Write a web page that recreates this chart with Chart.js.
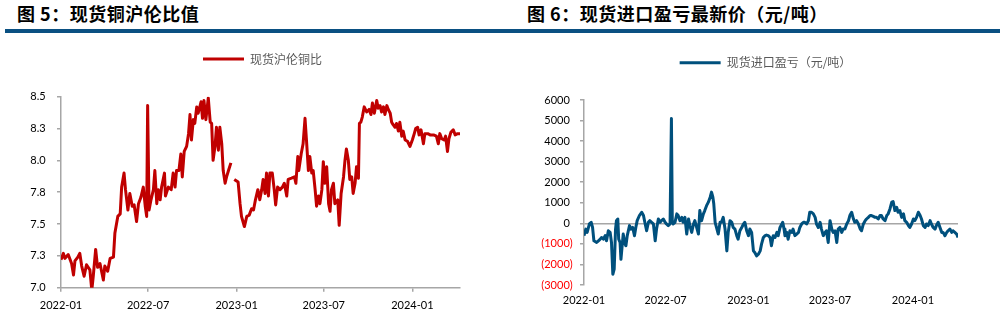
<!DOCTYPE html>
<html lang="zh">
<head>
<meta charset="utf-8">
<script src="https://cdn.jsdelivr.net/npm/chart.js@4.4.1/dist/chart.umd.min.js"></script>
<style>
  html, body { margin: 0; padding: 0; background: #fff; }
  body { width: 1002px; height: 322px; position: relative; overflow: hidden; }
  .title {
    position: absolute; top: 4px; white-space: nowrap; color: #000;
    font: bold 18px "Noto Sans CJK SC", sans-serif; line-height: 18px; letter-spacing: 0.5px;
  }
  .rule { position: absolute; left: 5px; top: 29px; width: 995px; height: 3.5px; background: #0a5082; }
  canvas { position: absolute; top: 36px; }
</style>
</head>
<body>
<div class="title" style="left:17px">图 5：现货铜沪伦比值</div>
<div class="title" style="left:527px">图 6：现货进口盈亏最新价（元/吨）</div>
<div class="rule"></div>
<canvas id="ratioChart" width="500" height="286" style="left:0"></canvas>
<canvas id="plChart" width="502" height="286" style="left:500px"></canvas>
<script>
// x axis is days counted from 2022-01-01
const monthTicks = [0, 181, 365, 546, 730];
const monthLabels = ['2022-01', '2022-07', '2023-01', '2023-07', '2024-01'];

// 现货沪伦铜比
const ratioDays = [
  0, 5, 8, 15, 22, 26, 29, 35, 39, 43,
  48, 53, 60, 64, 67, 72, 76, 81, 88, 91,
  97, 102, 109, 112, 118, 123, 126, 131, 134, 139,
  143, 148, 152, 157, 161, 166, 171, 175, 178, 180,
  183, 187, 192, 195, 199, 202, 206, 209, 215, 217,
  223, 229, 233, 237, 240, 245, 249, 252, 256, 261,
  265, 268, 271, 275, 278, 282, 285, 291, 294, 297,
  301, 306, 310, 313, 316, 320, 323, 327, 330, 334,
  337, 341, 344, 348, 353, 356, 360, 368, 372, 375,
  381, 386, 391, 396, 400, 404, 409, 413, 417, 420,
  424, 427, 431, 434, 439, 443, 446, 450, 455, 460,
  464, 469, 472, 479, 485, 488, 492, 494, 499, 503,
  507, 510, 514, 517, 521, 524, 528, 531, 535, 538,
  542, 545, 548, 552, 556, 559, 562, 566, 569, 575,
  578, 582, 587, 590, 593, 597, 600, 604, 607, 611,
  614, 618, 620, 623, 626, 630, 635, 640, 644, 647,
  651, 656, 659, 663, 666, 670, 673, 677, 680, 684,
  687, 690, 694, 697, 701, 704, 708, 711, 715, 720,
  725, 730, 734, 737, 741, 744, 748, 753, 756, 762,
  767, 774, 780, 784, 787, 791, 796, 799, 803, 806,
  810, 815, 819, 824, 829
];
const ratioValues = [
  7.22, 7.27, 7.23, 7.26, 7.19, 7.10, 7.21, 7.24, 7.27, 7.17,
  7.09, 7.18, 7.14, 6.98, 7.09, 7.30, 7.16, 7.19, 7.06, 7.17,
  7.13, 7.23, 7.24, 7.43, 7.56, 7.58, 7.79, 7.90, 7.77, 7.61,
  7.74, 7.64, 7.65, 7.52, 7.66, 7.71, 7.79, 7.64, 7.56, 8.43,
  7.61, 7.69, 7.77, 7.92, 7.66, 7.77, 7.69, 7.79, 7.90, 7.72,
  7.79, 7.77, 7.90, 7.79, 7.92, 7.92, 8.05, 7.87, 8.07, 8.11,
  8.21, 8.36, 8.16, 8.32, 8.29, 8.42, 8.37, 8.46, 8.33, 8.47,
  8.32, 8.49, 8.30, 8.29, 8.00, 8.11, 8.26, 8.08, 8.26, 8.13,
  7.92, 7.82, 7.87, 7.92, 7.98, null, 7.85, 7.83, 7.66, 7.56,
  7.48, 7.56, 7.57, 7.62, 7.61, 7.69, 7.77, 7.69, 7.77, 7.85,
  7.74, 7.90, 7.72, 7.90, 7.90, 7.77, 7.65, 7.79, 7.77, 7.79,
  7.82, 7.72, 7.85, 7.86, 7.87, 7.82, 8.03, 7.92, 8.05, 8.13,
  8.33, 8.16, 7.92, 8.03, 7.90, 7.92, 7.77, 7.64, 7.72, 7.66,
  7.77, 7.99, 7.82, 7.95, 7.66, 7.60, 7.77, 7.82, 7.66, 7.69,
  7.49, 7.74, 7.87, 8.00, 8.09, 8.00, 7.85, 7.87, 7.74, 7.82,
  7.95, 7.86, 8.29, 8.30, 8.34, 8.42, 8.38, 8.40, 8.36, 8.45,
  8.37, 8.47, 8.41, 8.43, 8.38, 8.42, 8.36, 8.43, 8.40, 8.37,
  8.30, 8.28, 8.26, 8.29, 8.23, 8.30, 8.19, 8.23, 8.16, 8.15,
  8.11, 8.16, 8.21, 8.25, 8.26, 8.20, 8.24, 8.13, 8.21, 8.21,
  8.20, 8.20, 8.19, 8.13, 8.21, 8.17, 8.16, 8.19, 8.07, 8.17,
  8.22, 8.24, 8.20, 8.21, 8.21
];

// 现货进口盈亏（元/吨）
const plDays = [
  0, 4, 7, 12, 16, 19, 22, 28, 32, 36,
  39, 43, 47, 50, 54, 58, 61, 64, 67, 70,
  72, 75, 77, 80, 82, 85, 87, 91, 93, 96,
  101, 104, 108, 112, 115, 118, 123, 128, 132, 135,
  139, 143, 146, 150, 154, 158, 161, 165, 169, 172,
  176, 180, 183, 187, 191, 194, 196, 198, 202, 206,
  209, 213, 217, 220, 224, 228, 232, 235, 239, 243,
  246, 250, 254, 257, 261, 265, 268, 272, 276, 280,
  283, 286, 288, 291, 294, 298, 302, 305, 309, 313,
  317, 320, 324, 328, 331, 335, 339, 342, 346, 350,
  354, 357, 361, 365, 368, 372, 376, 379, 383, 387,
  391, 394, 398, 402, 405, 409, 413, 416, 420, 424,
  428, 431, 435, 439, 441, 444, 446, 450, 453, 457,
  461, 464, 468, 472, 476, 479, 483, 487, 490, 494,
  498, 501, 505, 509, 513, 516, 520, 524, 527, 531,
  535, 538, 542, 546, 550, 553, 557, 561, 564, 568,
  572, 575, 579, 583, 587, 590, 594, 598, 601, 605,
  609, 613, 616, 620, 624, 627, 631, 635, 638, 642,
  646, 649, 653, 657, 660, 664, 668, 672, 675, 679,
  683, 686, 690, 694, 697, 701, 705, 709, 712, 716,
  720, 723, 727, 731, 734, 738, 742, 746, 749, 753,
  757, 760, 764, 768, 771, 775, 779, 782, 786, 790,
  794, 797, 801, 805, 808, 812, 816, 819, 823, 827,
  830
];
const plValues = [
  -600, -280, -440, -30, 50, -200, -850, -930, -850, -770,
  -690, -770, -600, -850, -360, -440, -930, -2480, -2230, -280,
  130, 210, -770, -930, -1750, -1010, -520, -1010, -1090, -600,
  -110, -280, -200, -600, -200, 130, 380, 540, 380, 50,
  -360, 50, 130, 50, -30, -850, -280, 210, 50, 130,
  210, 50, -30, -110, -30, 5100, 50, -30, 50, 460,
  380, 130, 290, 50, 290, -520, 210, -110, -440, -30,
  130, -200, -520, 620, 130, 460, 620, 860, 1030, 1270,
  1520, 1270, 950, 50, -200, -520, 50, 50, 290, -280,
  -1340, -440, 130, 50, -200, -280, -600, -770, -360, -200,
  -30, 50, -360, -600, -280, -440, -1340, -1420, -1580, -1500,
  -1340, -1010, -690, -600, -570, -600, -690, -1090, -600, -690,
  -440, -600, -200, -30, 50, -280, -600, -440, -770, -360,
  -440, -280, -600, -520, -440, -200, -30, 50, 50, -30,
  130, 540, 540, 460, 290, -30, -200, 50, -280, -600,
  -440, -360, -930, 130, -280, -440, -360, -930, -280, -200,
  -440, -280, -280, -30, 130, 380, 540, 210, 50, 130,
  -30, -280, -360, -30, 130, 210, 290, 380, 380, 340,
  290, 290, 210, 380, 380, 210, 130, 380, 460, 700,
  1030, 1060, 620, 780, 540, 620, 290, 460, 130, 50,
  -110, -200, -30, 210, 130, 290, 540, 380, 210, -110,
  -200, -30, -110, 130, -30, -200, -280, -110, 50, -200,
  -440, -440, -600, -440, -360, -280, -440, -360, -440, -520,
  -690
];

const tickFont = { family: 'Lato, "Liberation Sans", sans-serif', size: 11 };
const axisGray = '#a6a6a6';

// put the legend where the original one sits, with some room below it
const legendSpot = (centre, extra) => ({
  id: 'legendSpot',
  beforeInit(chart) {
    const fit = chart.legend.fit;
    chart.legend.fit = function () {
      fit.call(this);
      this.height += extra;
    };
  },
  afterLayout(chart) {
    const lg = chart.legend;
    const shift = centre - (lg.left + lg.right) / 2;
    lg.left += shift;
    lg.right += shift;
  }
});

const legendOpts = {
  position: 'top',
  labels: {
    boxWidth: 41,
    boxHeight: 3,
    color: '#595959',
    font: { family: '"Noto Sans CJK SC", sans-serif', size: 12 },
    generateLabels: (chart) =>
      Chart.defaults.plugins.legend.labels.generateLabels(chart)
        .map((l) => ({ ...l, fillStyle: l.strokeStyle, lineWidth: 0 }))
  }
};

const monthAxis = (max, height, extra) => ({
  type: 'linear',
  min: 0,
  max: max,
  afterBuildTicks: (s) => { s.ticks = monthTicks.map((v) => ({ value: v })); },
  afterFit: (s) => { s.height = height; },
  ticks: {
    callback: (v, i) => monthLabels[i],
    font: tickFont,
    color: '#000',
    maxRotation: 0,
    autoSkip: false,
    padding: extra.padding
  },
  grid: extra.grid,
  border: extra.border
});

// 图 5
new Chart(document.getElementById('ratioChart'), {
  type: 'line',
  data: {
    datasets: [{
      label: '现货沪伦铜比',
      data: ratioDays.map((d, i) => ({ x: d, y: ratioValues[i] })),
      borderColor: '#c00000',
      backgroundColor: '#c00000',
      borderWidth: 3,
      borderJoinStyle: 'round',
      pointRadius: 0,
      tension: 0,
      spanGaps: false
    }]
  },
  options: {
    responsive: false,
    animation: false,
    devicePixelRatio: 1,
    layout: { padding: { top: 7, left: 0, right: 40, bottom: 0 } },
    plugins: { legend: legendOpts, tooltip: { enabled: false } },
    scales: {
      x: monthAxis(829, 34.3, {
        padding: 6.7,
        grid: { drawOnChartArea: false, tickLength: 4, color: axisGray, lineWidth: 1.5 },
        border: { color: axisGray, width: 1.5 }
      }),
      y: {
        min: 7,
        max: 8.5,
        afterFit: (s) => { s.width = 61; },
        ticks: {
          stepSize: 0.25,
          callback: (v) => v.toFixed(1),
          font: tickFont,
          color: '#000',
          padding: 11.3
        },
        grid: { drawOnChartArea: false, tickLength: 4, color: axisGray, lineWidth: 1.5 },
        border: { color: axisGray, width: 1.5 }
      }
    }
  },
  plugins: [legendSpot(262.5, 21.7)]
});

// 图 6
new Chart(document.getElementById('plChart'), {
  type: 'line',
  data: {
    datasets: [{
      label: '现货进口盈亏（元/吨）',
      data: plDays.map((d, i) => ({ x: d, y: plValues[i] })),
      borderColor: '#00507d',
      backgroundColor: '#00507d',
      borderWidth: 3,
      borderJoinStyle: 'round',
      pointRadius: 0,
      tension: 0
    }]
  },
  options: {
    responsive: false,
    animation: false,
    devicePixelRatio: 1,
    layout: { padding: { top: 10.7, left: 0, right: 44, bottom: 0 } },
    plugins: { legend: legendOpts, tooltip: { enabled: false } },
    scales: {
      x: monthAxis(830, 37, {
        padding: 9.1,
        grid: { display: false, drawTicks: false },
        border: { display: false }
      }),
      y: {
        min: -3000,
        max: 6000,
        afterFit: (s) => { s.width = 84; },
        ticks: {
          stepSize: 1000,
          callback: (v) => (v < 0 ? '(' + Math.abs(v) + ')' : v + ' '),
          color: (c) => (c.tick.value < 0 ? '#ff0000' : '#000'),
          font: tickFont,
          padding: 7.3
        },
        grid: {
          tickLength: 4,
          lineWidth: 1.5,
          tickColor: axisGray,
          color: (c) => (c.tick && c.tick.value === 0 ? axisGray : 'rgba(0,0,0,0)')
        },
        border: { color: axisGray, width: 1.5 }
      }
    }
  },
  plugins: [legendSpot(265.5, 21.3)]
});
</script>
</body>
</html>
